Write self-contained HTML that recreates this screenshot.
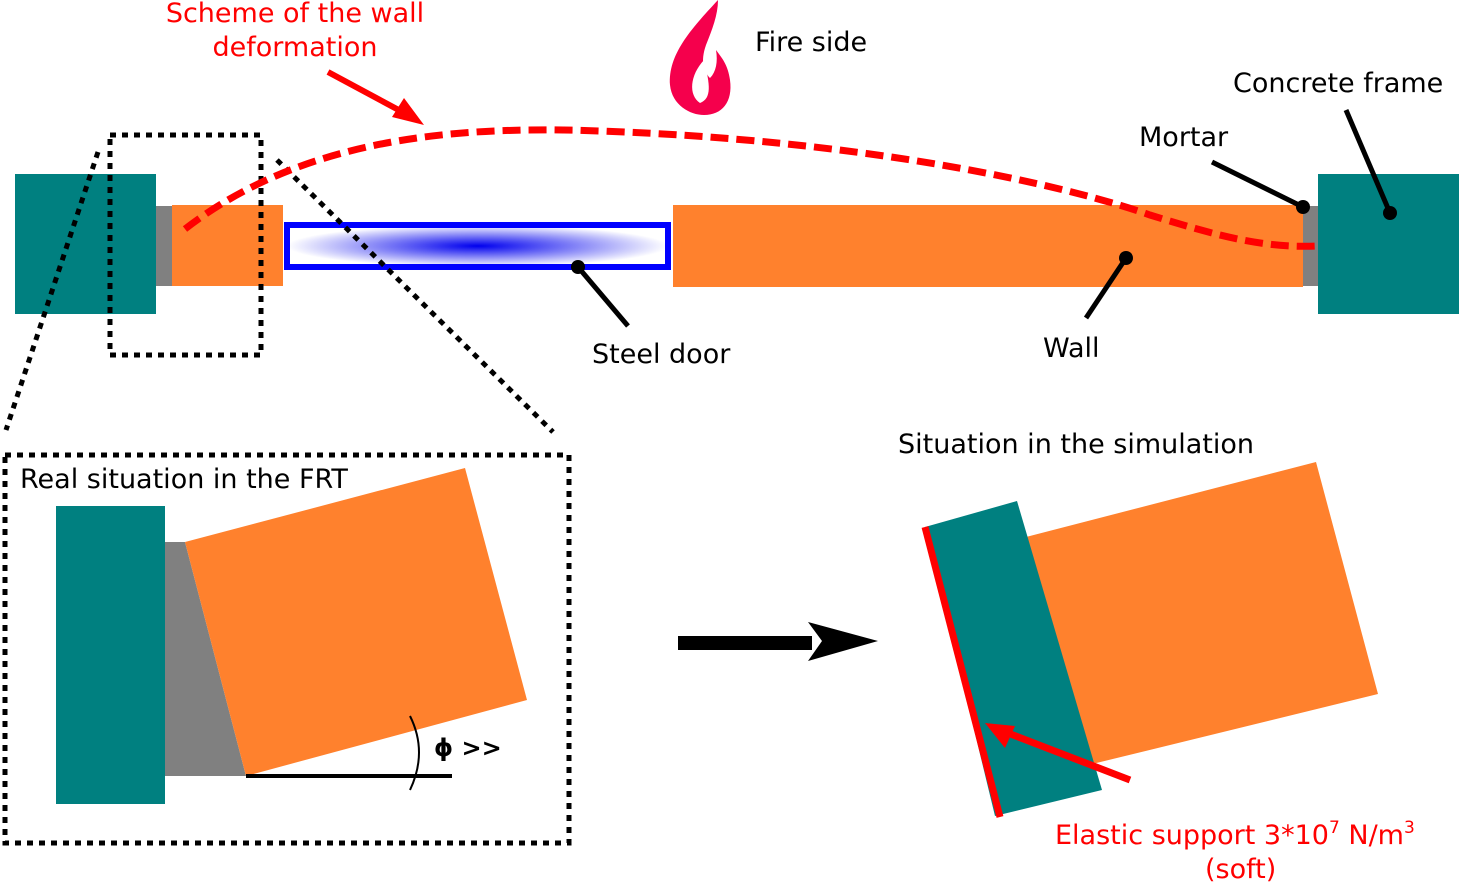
<!DOCTYPE html>
<html><head><meta charset="utf-8"><style>body{margin:0;background:#fff}svg{display:block}text{font-family:"DejaVu Sans",sans-serif;font-size:27px}</style></head><body>
<svg width="1459" height="884" viewBox="0 0 1459 884" xmlns="http://www.w3.org/2000/svg">
<defs>
<radialGradient id="g" cx="0.5" cy="0.5" r="0.5">
<stop offset="0" stop-color="#0000ee"/><stop offset="1" stop-color="#fff"/></radialGradient>
</defs>
<rect x="15" y="174" width="141" height="140" fill="#008080"/>
<rect x="156" y="206" width="16" height="80" fill="#808080"/>
<rect x="172" y="205" width="111" height="81" fill="#ff812d"/>
<rect x="287" y="225" width="381" height="42" fill="url(#g)" stroke="#0000ff" stroke-width="6"/>
<rect x="673" y="205" width="630" height="82" fill="#ff812d"/>
<rect x="1303" y="206" width="15" height="80" fill="#808080"/>
<rect x="1318" y="174" width="141" height="140" fill="#008080"/>
<g fill="none" stroke="#000" stroke-width="5" stroke-dasharray="6 6">
<rect x="110" y="135" width="151" height="220"/>
<line x1="98" y1="152" x2="6" y2="430"/>
<line x1="277" y1="160" x2="553" y2="432"/>
<rect x="5" y="455" width="564" height="388"/>
</g>
<path d="M185,229 C300,140 450,125 600,131 C850,140 1050,180 1150,215 C1230,240 1270,248 1318,246" fill="none" stroke="#ff0000" stroke-width="7" stroke-dasharray="18 8"/>
<line x1="328" y1="72" x2="408" y2="115" stroke="#ff0000" stroke-width="6"/>
<polygon points="424,125 392,117 404,98" fill="#ff0000"/>
<path d="M718,0 C690,30 668,55 670,85 C672,105 690,115 704,115 C722,115 733,102 730,80 C728,65 722,58 716,50 C718,62 716,72 710,78 C704,72 700,62 706,45 C712,30 718,15 718,0 Z" fill="#f5004c"/>
<path d="M704,60 C690,75 688,95 700,103 C712,98 710,85 704,60Z" fill="#fff"/>
<g stroke="#000" stroke-width="5">
<line x1="1212" y1="162" x2="1303" y2="207"/>
<line x1="1346" y1="110" x2="1390" y2="213"/>
<line x1="578" y1="267" x2="628" y2="326"/>
<line x1="1126" y1="258" x2="1086" y2="318"/>
</g>
<g fill="#000"><circle cx="1303" cy="207" r="7"/><circle cx="1390" cy="213" r="7"/><circle cx="578" cy="267" r="7"/><circle cx="1126" cy="258" r="7"/></g>
<rect x="56" y="506" width="109" height="298" fill="#008080"/>
<polygon points="165,542 185,542 246,776 165,776" fill="#808080"/>
<polygon points="185,542 465,468 527,700 246,776" fill="#ff812d"/>
<line x1="246" y1="776" x2="452" y2="776" stroke="#000" stroke-width="4"/>
<path d="M410,716 Q428,752 410,790" fill="none" stroke="#000" stroke-width="2"/>
<text x="434" y="756" style="font-weight:bold;font-size:24px">ϕ &gt;&gt;</text>
<rect x="678" y="636" width="134" height="14" fill="#000"/>
<polygon points="808,622 878,641 808,661 822,641" fill="#000"/>
<polygon points="1026,537 1316,462 1378,694 1080,767" fill="#ff812d"/>
<polygon points="925,527 1017,501 1102,790 995,816" fill="#008080"/>
<line x1="925" y1="527" x2="1000" y2="817" stroke="#ff0000" stroke-width="7"/>
<line x1="1130" y1="780" x2="1000" y2="730" stroke="#ff0000" stroke-width="7"/>
<polygon points="985,723 1015,726 1005,748" fill="#ff0000"/>
<g fill="#ff0000"><text x="295" y="22" text-anchor="middle">Scheme of the wall</text><text x="295" y="56" text-anchor="middle">deformation</text>
<text x="1055" y="844">Elastic support 3*10<tspan dy="-11" style="font-size:17px">7</tspan><tspan dy="11"> N/m</tspan><tspan dy="-11" style="font-size:17px">3</tspan></text>
<text x="1205" y="878">(soft)</text></g>
<text x="755" y="51">Fire side</text>
<text x="1233" y="92">Concrete frame</text>
<text x="1139" y="146">Mortar</text>
<text x="592" y="363">Steel door</text>
<text x="1043" y="357">Wall</text>
<text x="20" y="488">Real situation in the FRT</text>
<text x="898" y="453">Situation in the simulation</text>
</svg>
</body></html>
